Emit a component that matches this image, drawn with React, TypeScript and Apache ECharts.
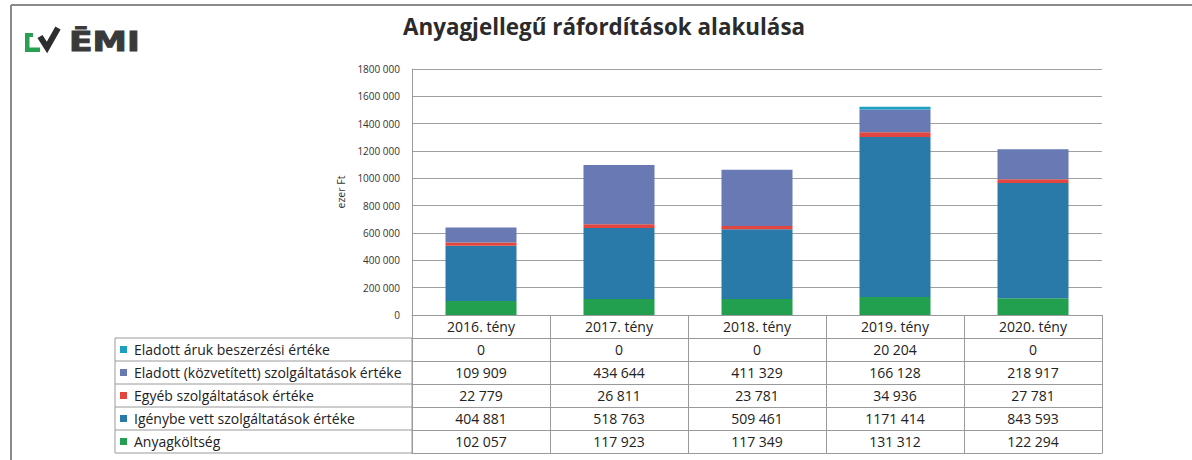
import React, { useEffect, useRef } from "react";
import * as echarts from "echarts";

const categories = ["2016. tény", "2017. tény", "2018. tény", "2019. tény", "2020. tény"];
const seriesNames = [
  "Eladott áruk beszerzési értéke",
  "Eladott (közvetített) szolgáltatások értéke",
  "Egyéb szolgáltatások értéke",
  "Igénybe vett szolgáltatások értéke",
  "Anyagköltség",
];
const eladottAruk = [0, 0, 0, 20204, 0];
const eladottSzolg = [109909, 434644, 411329, 166128, 218917];
const egyebSzolg = [22779, 26811, 23781, 34936, 27781];
const igenybeVett = [404881, 518763, 509461, 1171414, 843593];
const anyagkoltseg = [102057, 117923, 117349, 131312, 122294];
const seriesColors = ["#1ca0c2", "#6879b4", "#e2463e", "#2a7aa9", "#22a04f"];
const titleText = "Anyagjellegű ráfordítások alakulása";
const yAxisName = "ezer Ft";
const logoText = "ĒMI";

const tableRows = [eladottAruk, eladottSzolg, egyebSzolg, igenybeVett, anyagkoltseg];

const fmt = (n: number) => {
  if (n < 1000) return String(n);
  const hi = Math.floor(n / 1000);
  const lo = String(n % 1000).padStart(3, "0");
  return `${hi} ${lo}`;
};

const W = 1192;
const H = 460;
const GL = 412;
const GR = 1102;
const GT = 69;
const GB = 315;
const ROW = 23;
const LBL_X = 115;
const FONT = "Open Sans";
const LINE = "#9a9a9a";
const TFS = 14;

export default function App() {
  const ref = useRef<HTMLDivElement>(null);
  useEffect(() => {
    document.body.style.margin = "0";
    if (!ref.current) return;
    const chart = echarts.init(ref.current, undefined, { renderer: "svg" });

    const baseAxis = (i: number) => ({
      type: "category" as const,
      gridIndex: 0,
      position: "bottom" as const,
      offset: i * ROW,
      data: categories,
      boundaryGap: true,
      axisLine: { show: true, lineStyle: { color: LINE, width: 1 } },
      axisTick: { show: i < tableRows.length + 1, interval: 0, alignWithLabel: false, length: ROW, inside: false, lineStyle: { color: LINE, width: 1 } },
      axisLabel: {
        show: i < tableRows.length + 1,
        interval: 0,
        margin: 4,
        fontFamily: FONT,
        fontSize: TFS,
        color: "#222",
        formatter: (v: string, idx: number) => (i === 0 ? v : fmt(tableRows[i - 1][idx])),
      },
      splitLine: { show: false },
    });

    const xAxes = [] as any[];
    for (let i = 0; i <= tableRows.length + 1; i++) xAxes.push(baseAxis(i));

    const stackOrder = [4, 3, 2, 1, 0];
    const series = stackOrder.map((k) => ({
      type: "bar" as const,
      name: seriesNames[k],
      stack: "total",
      xAxisIndex: 0,
      barWidth: 71,
      data: tableRows[k],
      itemStyle: { color: seriesColors[k] },
    }));

    const graphic: any[] = [];
    // frame
    graphic.push({ type: "line", shape: { x1: 11, y1: 5, x2: W, y2: 5 }, style: { stroke: "#8a8a8a", lineWidth: 2 } });
    graphic.push({ type: "line", shape: { x1: 11, y1: 5, x2: 11, y2: H }, style: { stroke: "#8a8a8a", lineWidth: 2 } });
    // logo
    graphic.push({
      type: "polygon",
      shape: { points: [[25, 33], [33, 33], [33, 37], [29.5, 37], [29.5, 47.5], [40, 47.5], [40, 52], [25, 52]] },
      style: { fill: "#2aa052" },
    });
    graphic.push({
      type: "polyline",
      shape: { points: [[40, 36.5], [47, 47.5], [58, 28]] },
      style: { stroke: "#2d2d2d", lineWidth: 6, fill: "none", lineJoin: "miter" },
    });
    graphic.push({
      type: "text",
      x: 69,
      y: 28,
      scaleX: 1.28,
      style: { text: logoText, fontFamily: "DejaVu Sans", fontWeight: "bold", fontSize: 27, fill: "#3a3a3a", stroke: "#3a3a3a", lineWidth: 1 },
    });
    // label column of table
    const nRows = tableRows.length;
    const top = GB + ROW;
    graphic.push({
      type: "rect",
      shape: { x: LBL_X, y: top, width: GL - LBL_X, height: ROW * nRows },
      style: { fill: "none", stroke: LINE, lineWidth: 1 },
    });
    for (let r = 1; r < nRows; r++) {
      graphic.push({ type: "line", shape: { x1: LBL_X, y1: top + r * ROW, x2: GL, y2: top + r * ROW }, style: { stroke: LINE, lineWidth: 1 } });
    }
    for (let r = 0; r < nRows; r++) {
      const cy = top + r * ROW + ROW / 2;
      graphic.push({ type: "rect", shape: { x: 120, y: cy - 3.5, width: 7, height: 7 }, style: { fill: seriesColors[r] } });
      graphic.push({
        type: "text",
        x: 134,
        y: cy,
        style: { text: seriesNames[r], fontFamily: FONT, fontSize: TFS, fill: "#222", verticalAlign: "middle", textAlign: "left" },
      });
    }

    chart.setOption({
      animation: false,
      title: {
        text: titleText,
        left: 403,
        top: 15,
        padding: 0,
        textStyle: { fontFamily: FONT, fontWeight: "bold", fontSize: 22.4, color: "#2b2b2b" },
      },
      grid: { left: GL, top: GT, width: GR - GL, height: GB - GT, containLabel: false },
      xAxis: xAxes,
      yAxis: {
        type: "value",
        min: 0,
        max: 1800000,
        interval: 200000,
        name: yAxisName,
        nameLocation: "middle",
        nameGap: 43,
        nameRotate: 90,
        nameTextStyle: { fontFamily: FONT, fontSize: 10.5, color: "#333" },
        axisLine: { show: true, lineStyle: { color: LINE } },
        axisTick: { show: false },
        axisLabel: { fontFamily: FONT, fontSize: 10, color: "#333", margin: 12, formatter: (v: number) => fmt(v) },
        splitLine: { lineStyle: { color: "#a0a0a0", width: 1 } },
      },
      series,
      graphic,
    });
    return () => chart.dispose();
  }, []);
  return <div ref={ref} style={{ width: W, height: H }} />;
}
